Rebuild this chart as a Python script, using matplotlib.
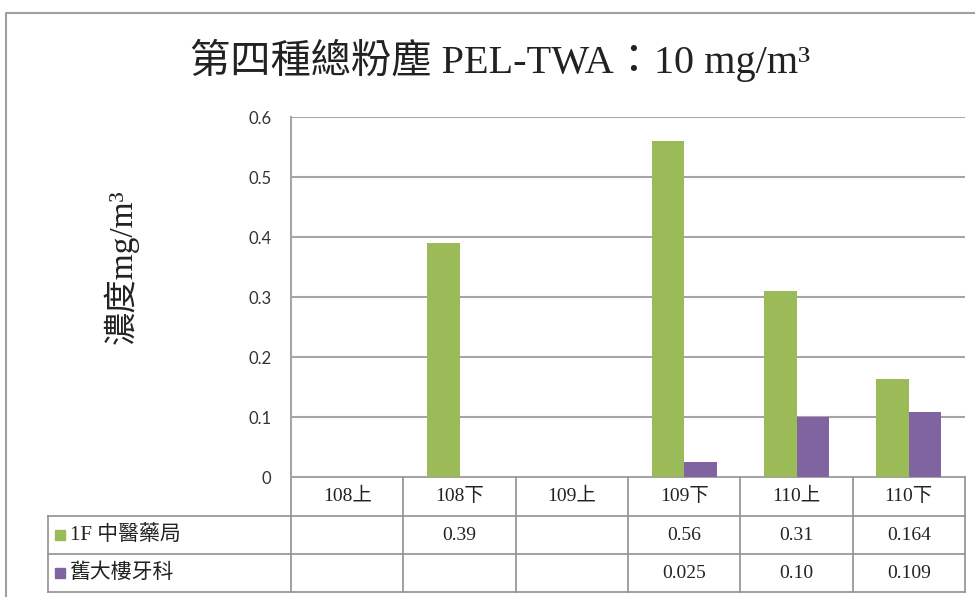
import numpy as np
import matplotlib.pyplot as plt

# data
cats = ['108上', '108下', '109上', '109下', '110上', '110下']
series = ['1F 中醫藥局', '舊大樓牙科']
pharm = [np.nan, 0.39, np.nan, 0.56, 0.31, 0.164]
dental = [np.nan, np.nan, np.nan, 0.025, 0.10, 0.109]
pharm_txt = ['', '0.39', '', '0.56', '0.31', '0.164']
dental_txt = ['', '', '', '0.025', '0.10', '0.109']
yticks = [0, 0.1, 0.2, 0.3, 0.4, 0.5, 0.6]

green = '#9BBB59'
purple = '#8064A2'
grid_c = '#A6A6A6'
serif_cjk = ['Liberation Serif', 'Noto Sans CJK TC']

W, H = 975, 597
fig = plt.figure(figsize=(W / 100, H / 100), dpi=100)

# overlay in pixel coords for border / table
ov = fig.add_axes([0, 0, 1, 1])
ov.set_xlim(0, W)
ov.set_ylim(H, 0)
ov.axis('off')

# plot area
x0, x1, ytop, ybot = 291, 965, 117, 477
ax = fig.add_axes([x0 / W, (H - ybot) / H, (x1 - x0) / W, (ybot - ytop) / H])
x = np.arange(len(cats))
bw = 0.29
ax.bar(x - bw / 2, pharm, bw, color=green, zorder=3)
ax.bar(x + bw / 2, dental, bw, color=purple, zorder=3)
ax.set_xlim(-0.5, len(cats) - 0.5)
ax.set_ylim(0, 0.6)
ax.set_yticks(yticks)
ax.set_yticklabels(['0' if v == 0 else f'{v:.1f}' for v in yticks],
                   fontsize=12, color='#333333', family='Lato')
ax.tick_params(axis='y', length=0, pad=14)
ax.set_xticks([])
ax.yaxis.grid(True, color=grid_c, lw=1.5, zorder=0)
for s in ['top', 'right', 'bottom']:
    ax.spines[s].set_visible(False)
ax.spines['left'].set_color(grid_c)
ax.spines['left'].set_linewidth(1.5)
ax.patch.set_alpha(0)

# title and y label
fig.text(500 / W, 1 - 60 / H, '第四種總粉塵 PEL-TWA：10 mg/m³', ha='center', va='center',
         fontsize=29, family=serif_cjk, color='#222222')
fig.text(121 / W, 1 - 267 / H, '濃度mg/m³', rotation=90, ha='center', va='center',
         fontsize=24, family=serif_cjk, color='#222222')

# chart border
ov.plot([6, 6, W], [H, 13, 13], color='#A0A0A0', lw=1.5)

# data table
tc = '#909090'
colw = (x1 - x0) / len(cats)
rows = [477, 516, 554, 592]
lab_l = 48
ov.plot([x0, x1], [rows[0], rows[0]], color=tc, lw=1.2)
for r in rows[1:]:
    ov.plot([lab_l, x1], [r, r], color=tc, lw=1.2)
ov.plot([lab_l, lab_l], [rows[1], rows[3]], color=tc, lw=1.2)
for i in range(len(cats) + 1):
    xe = x0 + i * colw
    ov.plot([xe, xe], [rows[0], rows[3]], color=tc, lw=1.2)

for i, c in enumerate(cats):
    xc = x0 + (i + 0.5) * colw
    ov.text(xc, (rows[0] + rows[1]) / 2, c, ha='center', va='center', fontsize=14,
            family=serif_cjk, color='#222222')
    ov.text(xc, (rows[1] + rows[2]) / 2, pharm_txt[i], ha='center', va='center',
            fontsize=14, family=serif_cjk, color='#222222')
    ov.text(xc, (rows[2] + rows[3]) / 2, dental_txt[i], ha='center', va='center',
            fontsize=14, family=serif_cjk, color='#222222')

for j, (name, col) in enumerate(zip(series, [green, purple])):
    yc = (rows[1 + j] + rows[2 + j]) / 2
    ov.add_patch(plt.Rectangle((55, yc - 5), 10, 10, color=col))
    ov.text(70, yc, name, ha='left', va='center', fontsize=15, family=serif_cjk,
            color='#222222')

fig.savefig('out.png', dpi=100)
